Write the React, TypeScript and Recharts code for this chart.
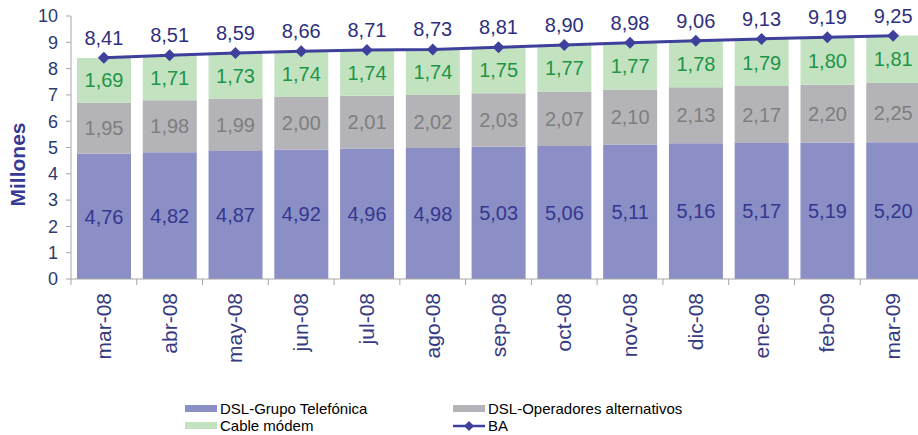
import {
  ComposedChart,
  Bar,
  Line,
  XAxis,
  YAxis,
  LabelList,
} from 'recharts'

const months = [
  'mar-08', 'abr-08', 'may-08', 'jun-08', 'jul-08', 'ago-08', 'sep-08',
  'oct-08', 'nov-08', 'dic-08', 'ene-09', 'feb-09', 'mar-09',
]
const telefonica = [4.76, 4.82, 4.87, 4.92, 4.96, 4.98, 5.03, 5.06, 5.11, 5.16, 5.17, 5.19, 5.2]
const alternativos = [1.95, 1.98, 1.99, 2.0, 2.01, 2.02, 2.03, 2.07, 2.1, 2.13, 2.17, 2.2, 2.25]
const cable = [1.69, 1.71, 1.73, 1.74, 1.74, 1.74, 1.75, 1.77, 1.77, 1.78, 1.79, 1.8, 1.81]
const ba = [8.41, 8.51, 8.59, 8.66, 8.71, 8.73, 8.81, 8.9, 8.98, 9.06, 9.13, 9.19, 9.25]
const yTicks = [0, 1, 2, 3, 4, 5, 6, 7, 8, 9, 10]

const data = months.map((m, i) => ({
  month: m,
  telefonica: telefonica[i],
  alternativos: alternativos[i],
  cable: cable[i],
  ba: ba[i],
}))

const FONT = '"Liberation Sans", Arial, sans-serif'
const fmt = (v: any) => Number(v).toFixed(2).replace('.', ',')

function MonthTick(props: any) {
  const { x, y, payload, index, visibleTicksCount } = props
  const half = payload.offset ?? 32.8
  const last = index === visibleTicksCount - 1
  return (
    <g>
      <line x1={x - half} y1={y - 8} x2={x - half} y2={y - 2} stroke='#A6A6A6' />
      {last && <line x1={x + half} y1={y - 8} x2={x + half} y2={y - 2} stroke='#A6A6A6' />}
      <text
        transform={`translate(${x + 7},${y + 6}) rotate(-90)`}
        textAnchor='end'
        fontSize={21}
        fontFamily={FONT}
        fill='#363A80'
      >
        {payload.value}
      </text>
    </g>
  )
}

function DiamondDot(props: any) {
  const { cx, cy } = props
  if (cx == null || cy == null) return null
  const r = 6
  return (
    <path
      d={`M${cx},${cy - r} L${cx + r},${cy} L${cx},${cy + r} L${cx - r},${cy} Z`}
      fill='#3E409C'
    />
  )
}

function Legend() {
  const text = { fontFamily: FONT, fontSize: 15, color: '#000', lineHeight: '17px' }
  const row = { position: 'absolute' as const, whiteSpace: 'nowrap' as const, display: 'flex', alignItems: 'center', height: 17 }
  const swatch = (c: string) => (
    <span style={{ display: 'inline-block', width: 32, height: 7, background: c, marginRight: 3 }} />
  )
  return (
    <div style={{ position: 'absolute', left: 185, top: 400, ...text }}>
      <div style={{ ...row, left: 0, top: 0 }}>
        {swatch('#8B8FC6')}DSL-Grupo Telefónica
      </div>
      <div style={{ ...row, left: 0, top: 17 }}>
        {swatch('#C3E3C0')}Cable módem
      </div>
      <div style={{ ...row, left: 268, top: 0 }}>
        {swatch('#B4B4B8')}DSL-Operadores alternativos
      </div>
      <div style={{ ...row, left: 268, top: 17 }}>
        <svg width={32} height={12} style={{ marginRight: 3 }}>
          <line x1={0} y1={6} x2={32} y2={6} stroke='#3E409C' strokeWidth={2.5} />
          <path d='M16,1 L21,6 L16,11 L11,6 Z' fill='#3E409C' />
        </svg>
        BA
      </div>
    </div>
  )
}

export default function App() {
  return (
    <div style={{ position: 'absolute', left: 0, top: 0, width: 918, height: 435, overflow: 'hidden', background: '#fff' }}>
      <ComposedChart
        width={926}
        height={435}
        data={data}
        margin={{ top: 16, right: 0, left: 0, bottom: 0 }}
        barSize={54}
      >
        <XAxis
          dataKey='month'
          height={156}
          interval={0}
          tickLine={false}
          stroke='#A6A6A6'
          tick={<MonthTick />}
        />
        <YAxis
          width={71}
          domain={[0, 10]}
          ticks={yTicks}
          interval={0}
          stroke='#A6A6A6'
          tickSize={5}
          tickMargin={8}
          tick={{ fontSize: 18, fill: '#2B3A6E', fontFamily: FONT }}
          label={{
            content: (p: any) => {
              const vb = p.viewBox
              const cy = vb.y + vb.height / 2 + 17
              return (
                <text
                  transform={`translate(25,${cy}) rotate(-90)`}
                  textAnchor='middle'
                  fontSize={21}
                  fontWeight='bold'
                  fontFamily={FONT}
                  fill='#363A94'
                >
                  Millones
                </text>
              )
            },
          }}
        />
        <Bar dataKey='telefonica' stackId='a' fill='#8B8FC6' isAnimationActive={false}>
          <LabelList dataKey='telefonica' position='center' formatter={fmt} fill='#34378F' fontSize={20} fontFamily={FONT} />
        </Bar>
        <Bar dataKey='alternativos' stackId='a' fill='#B4B4B8' isAnimationActive={false}>
          <LabelList dataKey='alternativos' position='center' formatter={fmt} fill='#7E7E7E' fontSize={20} fontFamily={FONT} />
        </Bar>
        <Bar dataKey='cable' stackId='a' fill='#C3E3C0' isAnimationActive={false}>
          <LabelList dataKey='cable' position='center' formatter={fmt} fill='#1E9448' fontSize={20} fontFamily={FONT} />
        </Bar>
        <Line
          dataKey='ba'
          stroke='#3E409C'
          strokeWidth={3}
          dot={<DiamondDot />}
          activeDot={false}
          isAnimationActive={false}
        >
          <LabelList dataKey='ba' position='top' offset={13} formatter={fmt} fill='#2E2F7E' fontSize={20} fontFamily={FONT} />
        </Line>
      </ComposedChart>
      <Legend />
    </div>
  )
}
